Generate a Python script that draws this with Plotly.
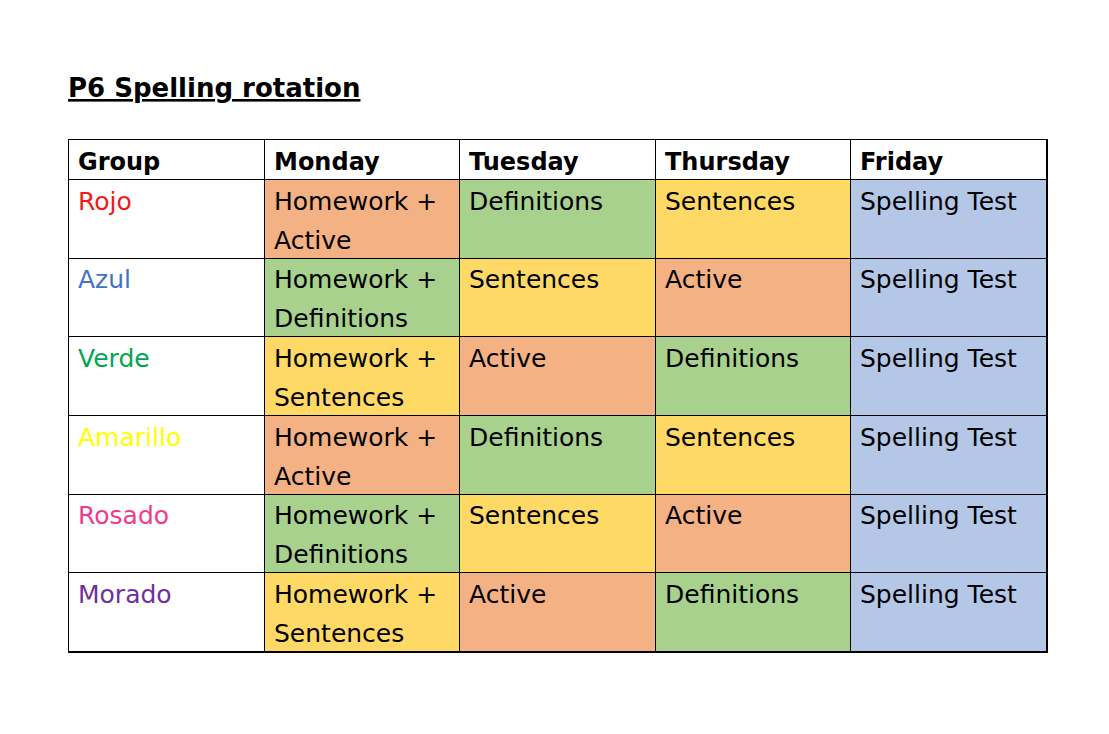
import plotly.graph_objects as go

# ---------------- data ----------------
title = "P6 Spelling rotation"
headers = ["Group", "Monday", "Tuesday", "Thursday", "Friday"]
groups = ["Rojo", "Azul", "Verde", "Amarillo", "Rosado", "Morado"]
group_colors = ["#EE1C1C", "#4472C4", "#00A650", "#FFFF00", "#F03C8C", "#7030A0"]
monday = ["Homework +<br>Active", "Homework +<br>Definitions", "Homework +<br>Sentences",
          "Homework +<br>Active", "Homework +<br>Definitions", "Homework +<br>Sentences"]
tuesday = ["Definitions", "Sentences", "Active", "Definitions", "Sentences", "Active"]
thursday = ["Sentences", "Active", "Definitions", "Sentences", "Active", "Definitions"]
friday = ["Spelling Test"] * 6

activity_names = ["(none)", "Active", "Definitions", "Sentences", "Spelling Test"]
activity_colors = ["#FFFFFF", "#F4B183", "#A9D18E", "#FFD966", "#B4C7E7"]

# ---------------- layout helpers ----------------
OFF = 8                       # default page body margin
W, H = 1109 - 2 * OFF, 734 - 2 * OFF
FONT = "DejaVu Sans"
HEADER_H = 40
ROW_H = (652 - 180) / 6
TABLE_L, TABLE_R, TABLE_T, TABLE_B = 69, 1047, 140, 652

columns = [groups, monday, tuesday, thursday, friday]
n_rows = len(groups)
n_cols = len(headers)

# row edges in pixel-like units (top = 0)
y_edges = [0, HEADER_H] + [HEADER_H + ROW_H * (i + 1) for i in range(n_rows)]
x_edges = list(range(n_cols + 1))


def code_of(text):
    return activity_names.index(text.split("<br>")[-1])


z = [[0] * n_cols]
for r in range(n_rows):
    row = [0]
    for c in range(1, n_cols):
        row.append(code_of(columns[c][r]))
    z.append(row)

n_codes = len(activity_colors)
colorscale = [[i / (n_codes - 1), col] for i, col in enumerate(activity_colors)]

fig = go.Figure(go.Heatmap(
    x=x_edges, y=y_edges, z=z,
    colorscale=colorscale, zmin=0, zmax=n_codes - 1,
    showscale=False, xgap=1, ygap=1, hoverinfo="skip",
))

annotations = []
LINE_GAP = 39
PAD_X = 7
FIRST_LINE = 21

# header
for c, h in enumerate(headers):
    annotations.append(dict(
        x=c, y=0, xref="x", yref="y", text=f"<b>{h}</b>", showarrow=False,
        xanchor="left", yanchor="middle", xshift=PAD_X, yshift=-22,
        font=dict(family=FONT, size=24, color="black"),
    ))

# body cells
for c in range(n_cols):
    for r in range(n_rows):
        lines = columns[c][r].split("<br>")
        color = group_colors[r] if c == 0 else "black"
        for li, line in enumerate(lines):
            annotations.append(dict(
                x=c, y=y_edges[r + 1], xref="x", yref="y", text=line,
                showarrow=False, xanchor="left", yanchor="middle",
                xshift=PAD_X, yshift=-(FIRST_LINE + LINE_GAP * li),
                font=dict(family=FONT, size=25, color=color),
            ))

# title
annotations.append(dict(
    x=(66 - OFF) / W, y=1 - (88 - OFF) / H, xref="paper", yref="paper",
    text=f"<b>{title}</b>", showarrow=False, xanchor="left", yanchor="middle",
    font=dict(family=FONT, size=26, color="black", lineposition="under"),
))

fig.update_layout(
    width=W, height=H,
    margin=dict(l=0, r=0, t=0, b=0),
    paper_bgcolor="white",
    plot_bgcolor="black",
    annotations=annotations,
    showlegend=False,
    xaxis=dict(
        domain=[(TABLE_L - OFF) / W, (TABLE_R - OFF) / W],
        range=[0, n_cols], showgrid=False, zeroline=False, showticklabels=False,
        ticks="", showline=True, linecolor="black", linewidth=1, mirror=True,
        fixedrange=True,
    ),
    yaxis=dict(
        domain=[1 - (TABLE_B - OFF) / H, 1 - (TABLE_T - OFF) / H],
        range=[y_edges[-1], 0], showgrid=False, zeroline=False, showticklabels=False,
        ticks="", showline=True, linecolor="black", linewidth=1, mirror=True,
        fixedrange=True,
    ),
)

fig.write_html("out.html")
